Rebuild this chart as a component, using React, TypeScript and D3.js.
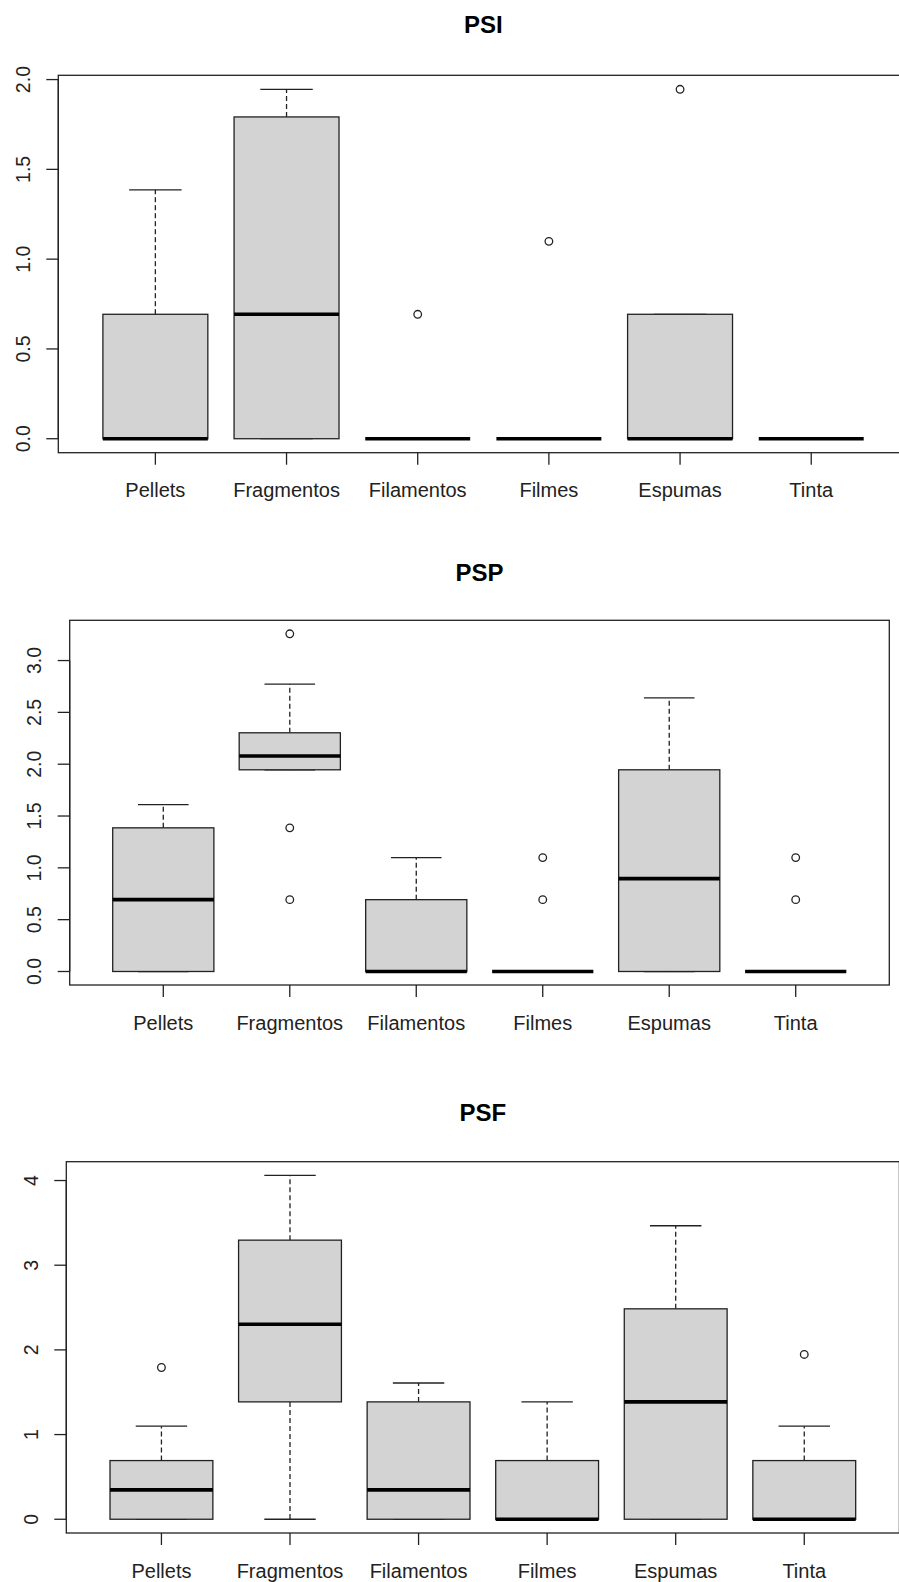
import React from "react";
import * as d3 from "d3";

// categorias no eixo x
const categories = ["Pellets", "Fragmentos", "Filamentos", "Filmes", "Espumas", "Tinta"];

// cada caixa: [bigode inferior, Q1, mediana, Q3, bigode superior]
const psiBoxes = [
  [0, 0, 0, 0.693, 1.386],
  [0, 0, 0.693, 1.792, 1.946],
  [0, 0, 0, 0, 0],
  [0, 0, 0, 0, 0],
  [0, 0, 0, 0.693, 0.693],
  [0, 0, 0, 0, 0],
];
const psiOutliers = [[], [], [0.693], [1.099], [1.946], []];
const psiTicks = [0, 0.5, 1, 1.5, 2];

const pspBoxes = [
  [0, 0, 0.693, 1.386, 1.609],
  [1.946, 1.946, 2.079, 2.303, 2.773],
  [0, 0, 0, 0.693, 1.099],
  [0, 0, 0, 0, 0],
  [0, 0, 0.896, 1.946, 2.639],
  [0, 0, 0, 0, 0],
];
const pspOutliers = [[], [3.258, 1.386, 0.693], [], [0.693, 1.099], [], [0.693, 1.099]];
const pspTicks = [0, 0.5, 1, 1.5, 2, 2.5, 3];

const psfBoxes = [
  [0, 0, 0.347, 0.693, 1.099],
  [0, 1.386, 2.303, 3.296, 4.06],
  [0, 0, 0.347, 1.386, 1.609],
  [0, 0, 0, 0.693, 1.386],
  [0, 0, 1.386, 2.485, 3.466],
  [0, 0, 0, 0.693, 1.099],
];
const psfOutliers = [[1.792], [], [], [], [], [1.946]];
const psfTicks = [0, 1, 2, 3, 4];

const font = "'Liberation Sans', Arial, sans-serif";
const stroke = "#222";

interface PanelProps {
  title: string;
  boxes: number[][];
  outliers: number[][];
  ticks: number[];
  tickFormat: (v: number) => string;
  left: number;
  right: number;
  top: number;
  bottom: number;
  titleY: number;
}

const BoxPanel: React.FC<PanelProps> = ({ title, boxes, outliers, ticks, tickFormat, left, right, top, bottom, titleY }) => {
  // escala x como no R: xlim c(0.5, n + 0.5) com 4% de folga
  const x = d3.scaleLinear().domain([0.26, 6.74]).range([left, right]);
  const all = boxes.flat().concat(outliers.flat());
  const lo = d3.min(all) ?? 0;
  const hi = d3.max(all) ?? 1;
  const pad = (hi - lo) * 0.04;
  const y = d3.scaleLinear().domain([lo - pad, hi + pad]).range([bottom, top]);

  const halfBox = 0.4;
  const halfStaple = 0.2;

  return (
    <g>
      <text x={(left + right) / 2} y={titleY} textAnchor="middle" fontFamily={font} fontWeight="bold" fontSize={24} fill="#000">
        {title}
      </text>

      {boxes.map((b, i) => {
        const c = i + 1;
        const [wl, q1, med, q3, wh] = b;
        return (
          <g key={categories[i]}>
            <line x1={x(c)} x2={x(c)} y1={y(q3)} y2={y(wh)} stroke={stroke} strokeWidth={1.3} strokeDasharray="5,3" />
            <line x1={x(c)} x2={x(c)} y1={y(q1)} y2={y(wl)} stroke={stroke} strokeWidth={1.3} strokeDasharray="5,3" />
            <line x1={x(c - halfStaple)} x2={x(c + halfStaple)} y1={y(wh)} y2={y(wh)} stroke={stroke} strokeWidth={1.3} />
            <line x1={x(c - halfStaple)} x2={x(c + halfStaple)} y1={y(wl)} y2={y(wl)} stroke={stroke} strokeWidth={1.3} />
            <rect
              x={x(c - halfBox)}
              y={y(q3)}
              width={x(c + halfBox) - x(c - halfBox)}
              height={Math.max(0, y(q1) - y(q3))}
              fill="#d3d3d3"
              stroke={stroke}
              strokeWidth={1.3}
            />
            <line x1={x(c - halfBox)} x2={x(c + halfBox)} y1={y(med)} y2={y(med)} stroke="#000" strokeWidth={3.6} />
            {outliers[i].map((o, j) => (
              <circle key={j} cx={x(c)} cy={y(o)} r={3.8} fill="none" stroke={stroke} strokeWidth={1.3} />
            ))}
          </g>
        );
      })}

      {/* moldura */}
      <rect x={left} y={top} width={right - left} height={bottom - top} fill="none" stroke={stroke} strokeWidth={1.3} />

      {/* eixo y */}
      <line x1={left - 12} x2={left - 12} y1={y(ticks[0])} y2={y(ticks[ticks.length - 1])} stroke="none" />
      <line x1={left} x2={left} y1={y(ticks[0])} y2={y(ticks[ticks.length - 1])} stroke={stroke} strokeWidth={1.3} />
      {ticks.map((t) => (
        <g key={t}>
          <line x1={left - 12} x2={left} y1={y(t)} y2={y(t)} stroke={stroke} strokeWidth={1.3} />
          <text
            transform={`translate(${left - 28.5},${y(t)}) rotate(-90)`}
            textAnchor="middle"
            fontFamily={font}
            fontSize={19.5}
            fill="#222"
          >
            {tickFormat(t)}
          </text>
        </g>
      ))}

      {/* eixo x */}
      {categories.map((cat, i) => (
        <g key={cat}>
          <line x1={x(i + 1)} x2={x(i + 1)} y1={bottom} y2={bottom + 12} stroke={stroke} strokeWidth={1.3} />
          <text x={x(i + 1)} y={bottom + 44.5} textAnchor="middle" fontFamily={font} fontSize={20} fill="#222">
            {cat}
          </text>
        </g>
      ))}
    </g>
  );
};

const App: React.FC = () => {
  const oneDec = d3.format(".1f");
  const intFmt = d3.format("d");
  return (
    <svg width={899} height={1582} style={{ position: "absolute", left: 0, top: 0, background: "#fff" }}>
      <rect width={899} height={1582} fill="#fff" />
      <BoxPanel title="PSI" boxes={psiBoxes} outliers={psiOutliers} ticks={psiTicks} tickFormat={oneDec}
        left={58.3} right={908.3} top={75.3} bottom={452.7} titleY={33.3} />
      <BoxPanel title="PSP" boxes={pspBoxes} outliers={pspOutliers} ticks={pspTicks} tickFormat={oneDec}
        left={69.7} right={889.3} top={620.3} bottom={985} titleY={580.7} />
      <BoxPanel title="PSF" boxes={psfBoxes} outliers={psfOutliers} ticks={psfTicks} tickFormat={intFmt}
        left={66.3} right={899.4} top={1161.7} bottom={1533} titleY={1120.7} />
    </svg>
  );
};

export default App;
